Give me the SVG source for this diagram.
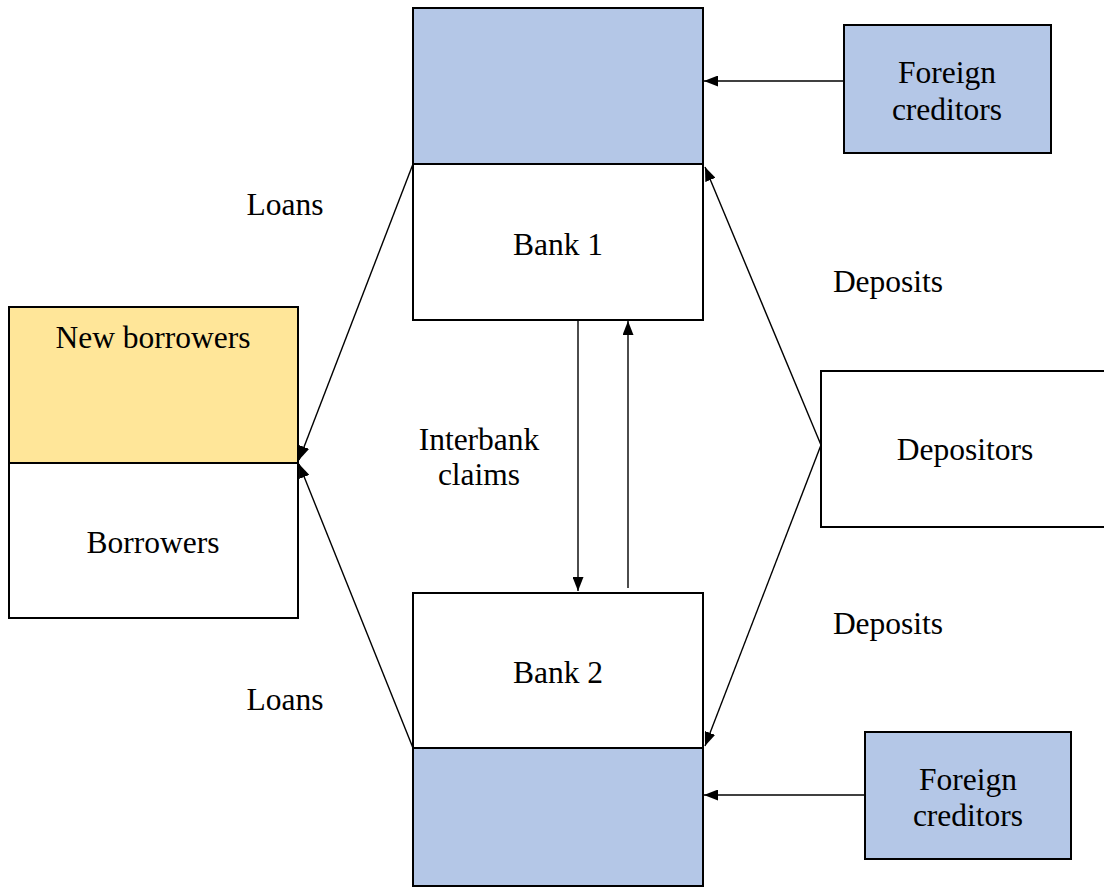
<svg xmlns="http://www.w3.org/2000/svg" width="1104" height="888" viewBox="0 0 1104 888">
  <style>
    .box { stroke: #000; stroke-width: 2; }
    .blue { fill: #B4C7E7; }
    .yellow { fill: #FFE699; }
    .white { fill: #FFFFFF; }
    .lbl { font-family: "Liberation Serif", "Times New Roman", serif; font-size: 31.5px; fill: #000; }
    .mid { text-anchor: middle; }
    .edge { stroke: #000; stroke-width: 1.4; fill: none; marker-end: url(#head); }
  </style>
  <defs>
    <marker id="head" viewBox="0 0 14 11" refX="14" refY="5.5" markerWidth="14" markerHeight="11" markerUnits="userSpaceOnUse" orient="auto">
      <path d="M0,0 L14,5.5 L0,11 Z" fill="#000"/>
    </marker>
  </defs>
  <rect width="1104" height="888" fill="#FFFFFF"/>

  <g id="bank1">
    <rect class="box blue" x="413" y="8" width="290" height="156"/>
    <rect class="box white" x="413" y="164" width="290" height="156"/>
    <text class="lbl mid" x="558" y="255">Bank 1</text>
  </g>

  <g id="bank2">
    <rect class="box white" x="413" y="593" width="290" height="155"/>
    <rect class="box blue" x="413" y="748" width="290" height="138"/>
    <text class="lbl mid" x="558" y="683">Bank 2</text>
  </g>

  <g id="borrowers">
    <rect class="box yellow" x="9" y="307" width="289" height="156"/>
    <rect class="box white" x="9" y="463" width="289" height="155"/>
    <text class="lbl mid" x="153" y="348">New borrowers</text>
    <text class="lbl mid" x="153" y="553">Borrowers</text>
  </g>

  <g id="foreign-creditors-1">
    <rect class="box blue" x="844" y="25" width="207" height="128"/>
    <text class="lbl mid" x="947" y="83">Foreign</text>
    <text class="lbl mid" x="947" y="120">creditors</text>
  </g>

  <g id="foreign-creditors-2">
    <rect class="box blue" x="865" y="732" width="206" height="127"/>
    <text class="lbl mid" x="968" y="790">Foreign</text>
    <text class="lbl mid" x="968" y="826">creditors</text>
  </g>

  <g id="depositors">
    <rect class="box white" x="821" y="371" width="300" height="156"/>
    <text class="lbl mid" x="965" y="460">Depositors</text>
  </g>

  <g id="connectors">
    <line class="edge" x1="844" y1="81" x2="704" y2="81"/>
    <line class="edge" x1="865" y1="795" x2="704" y2="795"/>
    <line class="edge" x1="821" y1="445" x2="705" y2="167"/>
    <line class="edge" x1="821" y1="445" x2="705" y2="746"/>
    <line class="edge" x1="413" y1="164" x2="299" y2="460"/>
    <line class="edge" x1="413" y1="748" x2="299" y2="464"/>
    <line class="edge" x1="578" y1="321" x2="578" y2="591"/>
    <line class="edge" x1="628" y1="588" x2="628" y2="321"/>
  </g>

  <g id="edge-labels">
    <text class="lbl mid" x="285" y="215">Loans</text>
    <text class="lbl mid" x="285" y="710">Loans</text>
    <text class="lbl mid" x="888" y="292">Deposits</text>
    <text class="lbl mid" x="888" y="634">Deposits</text>
    <text class="lbl mid" x="479" y="450">Interbank</text>
    <text class="lbl mid" x="479" y="485">claims</text>
  </g>
</svg>
